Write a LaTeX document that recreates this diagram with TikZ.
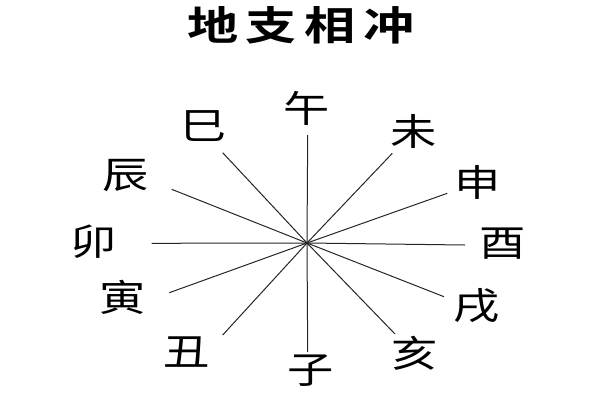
\documentclass[tikz,border=0pt]{standalone}
\usepackage{fontspec}
\newfontfamily\cjk{Noto Sans CJK SC}
\newfontfamily\cjkbold{Noto Sans CJK SC Bold}
\begin{document}
\begin{tikzpicture}[x=1pt,y=-1pt,
  lbl/.style={inner sep=0pt,font=\cjk\fontsize{37}{37}\selectfont,xscale=1.25,transform shape},
  ttl/.style={inner sep=0pt,font=\cjkbold\fontsize{40}{40}\selectfont,xscale=1.28,transform shape},
  ray/.style={line width=1pt,draw=black!85}]
\useasboundingbox[fill=white] (0,0) rectangle (600,400);
\node[ttl] (title) at (301,25) {地\hspace{6pt}支\hspace{6pt}相\hspace{6pt}冲};
\coordinate (c) at (307,243);
\coordinate (pwu) at (307.7,135);
\coordinate (pzi) at (307.7,352);
\coordinate (pmao) at (151.7,243.3);
\coordinate (pyou) at (465,245);
\coordinate (psi) at (222.7,152.7);
\coordinate (phai) at (395,334);
\coordinate (pwei) at (392.3,153.3);
\coordinate (pchou) at (222.7,335);
\coordinate (pchen) at (171.7,189.3);
\coordinate (pxu) at (444,296.7);
\coordinate (pshen) at (447.3,193.3);
\coordinate (pyin) at (169.3,292.7);
\draw[ray] (pwu) -- (c) -- (pzi);
\draw[ray] (pmao) -- (c) -- (pyou);
\draw[ray] (psi) -- (c) -- (phai);
\draw[ray] (pwei) -- (c) -- (pchou);
\draw[ray] (pchen) -- (c) -- (pxu);
\draw[ray] (pshen) -- (c) -- (pyin);
\node[lbl] (wu) at (307,108) {午};
\node[lbl] (zi) at (311,371) {子};
\node[lbl] (si) at (204,126) {巳};
\node[lbl] (wei) at (414,131) {未};
\node[lbl] (chen) at (126,175) {辰};
\node[lbl] (shen) at (478,182) {申};
\node[lbl] (mao) at (94,242) {卯};
\node[lbl] (you) at (503,244) {酉};
\node[lbl] (yin) at (123,297) {寅};
\node[lbl] (xu) at (477,306) {戌};
\node[lbl] (chou) at (187,352) {丑};
\node[lbl] (hai) at (415,353) {亥};
\end{tikzpicture}
\end{document}
